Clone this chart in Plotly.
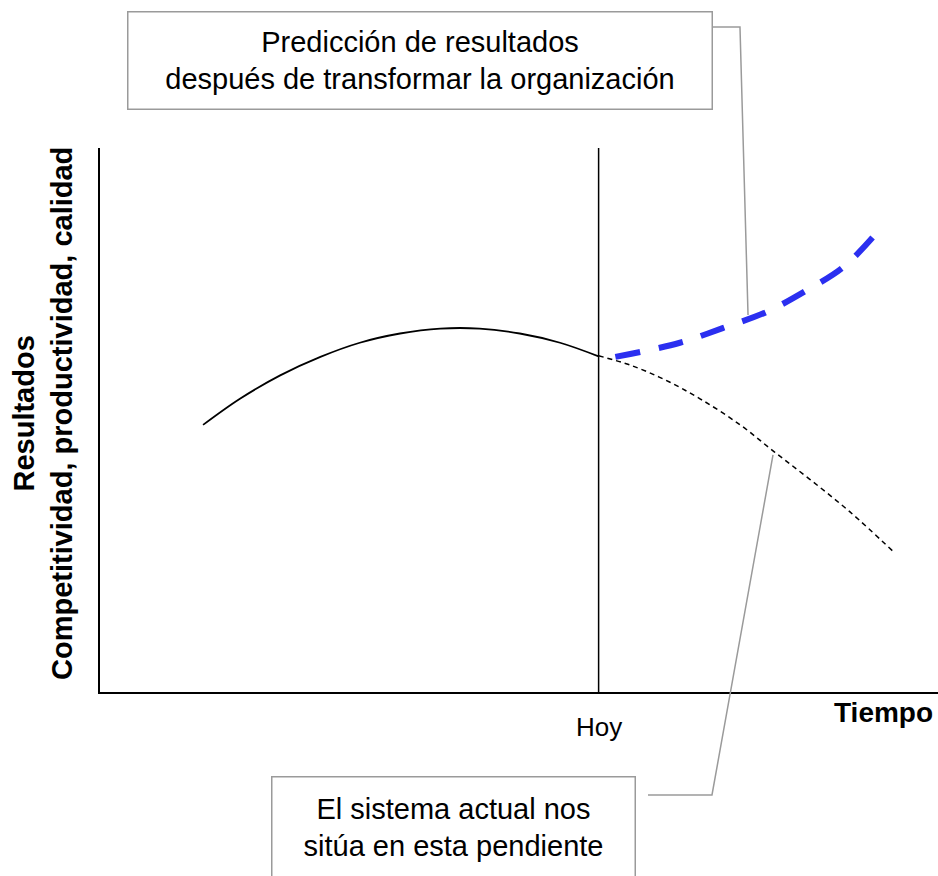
import plotly.graph_objects as go

# ---- data (arbitrary units: time 0-100, results 0-100) ----
hoy_x = 59.5
past_x = [12.3, 16.7, 21.5, 26.3, 31.0, 35.8, 40.6, 45.3, 50.1, 54.9, 59.5]
past_y = [49.1, 53.9, 58.2, 61.6, 64.2, 65.9, 66.8, 66.8, 65.9, 64.2, 61.7]

actual_x = [59.5, 63.25, 67.4, 71.6, 76.4, 80.5, 84.7, 89.5, 94.6]
actual_y = [61.8, 60.1, 57.4, 53.9, 49.1, 44.1, 39.1, 33.1, 25.9]

pred_x = [61.5, 69.2, 74.3, 79.6, 84.4, 88.7, 92.8]
pred_y = [61.6, 64.2, 66.9, 69.9, 73.9, 78.1, 84.6]

y_title_lines = ["Resultados", "Competitividad, productividad, calidad"]
x_title = "Tiempo"
hoy_label = "Hoy"
pred_note = "Predicción de resultados<br>después de transformar la organización"
actual_note = "El sistema actual nos<br>sitúa en esta pendiente"

FONT = "Liberation Sans, Arial, sans-serif"
GREY = "#9a9a9a"

fig = go.Figure()
fig.add_trace(go.Scatter(x=past_x, y=past_y, mode="lines", line_shape="spline",
                         line=dict(color="black", width=1.8), hoverinfo="skip"))
fig.add_trace(go.Scatter(x=actual_x, y=actual_y, mode="lines", line_shape="spline",
                         line=dict(color="black", width=1.5, dash="5px,4px"), hoverinfo="skip"))
fig.add_trace(go.Scatter(x=pred_x, y=pred_y, mode="lines", line_shape="spline",
                         line=dict(color="#2b2ff0", width=6, dash="25px,19px"), hoverinfo="skip"))

# "Hoy" vertical line
fig.add_shape(type="line", xref="x", yref="paper", x0=hoy_x, x1=hoy_x, y0=0, y1=1,
              line=dict(color="black", width=1.5))

# leader lines (paper coordinates)
fig.add_shape(type="path", xref="paper", yref="paper",
              path="M 0.7303 1.2224 L 0.7637 1.2224 L 0.7733 0.6930",
              line=dict(color=GREY, width=1.5))
fig.add_shape(type="path", xref="paper", yref="paper",
              path="M 0.6539 -0.1893 L 0.7303 -0.1893 L 0.8031 0.4357",
              line=dict(color=GREY, width=1.5))

# boxed notes
fig.add_annotation(xref="paper", yref="paper", x=0.3813, y=1.160,
                   xanchor="center", yanchor="middle", text=pred_note, showarrow=False,
                   font=dict(family=FONT, size=29, color="black"),
                   bordercolor=GREY, borderwidth=1.5, borderpad=1,
                   width=581, height=94, bgcolor="white", align="center")
fig.add_annotation(xref="paper", yref="paper", x=0.4224, y=-0.2482,
                   xanchor="center", yanchor="middle", text=actual_note, showarrow=False,
                   font=dict(family=FONT, size=29, color="black"),
                   bordercolor=GREY, borderwidth=1.5, borderpad=1,
                   width=360, height=98, bgcolor="white", align="center")

# axis labels
fig.add_annotation(xref="paper", yref="paper", x=-0.068, y=0.511,
                   xanchor="center", yanchor="middle", textangle=-90, showarrow=False,
                   text="<b>" + y_title_lines[0] + "</b><br><b>" + y_title_lines[1] + "</b>",
                   font=dict(family=FONT, size=29, color="black"), align="center")
fig.add_annotation(xref="paper", yref="paper", x=0.9964, y=-0.0386,
                   xanchor="right", yanchor="middle", showarrow=False,
                   text="<b>" + x_title + "</b>",
                   font=dict(family=FONT, size=28, color="black"))
fig.add_annotation(xref="x", yref="paper", x=hoy_x + 0.1, y=-0.064,
                   xanchor="center", yanchor="middle", showarrow=False,
                   text=hoy_label, font=dict(family=FONT, size=26, color="black"))

fig.update_xaxes(range=[0, 100], showgrid=False, zeroline=False, showticklabels=False,
                 ticks="", showline=True, linecolor="black", linewidth=2, fixedrange=True)
fig.update_yaxes(range=[0, 100], showgrid=False, zeroline=False, showticklabels=False,
                 ticks="", showline=True, linecolor="black", linewidth=2, fixedrange=True)

fig.update_layout(width=938, height=876, showlegend=False,
                  paper_bgcolor="white", plot_bgcolor="white",
                  margin=dict(l=100, r=0, t=148, b=184),
                  font=dict(family=FONT))

fig.write_html("out.html", config={"displayModeBar": False},
               post_script="document.body.style.margin='0px';document.body.style.overflow='hidden';")
